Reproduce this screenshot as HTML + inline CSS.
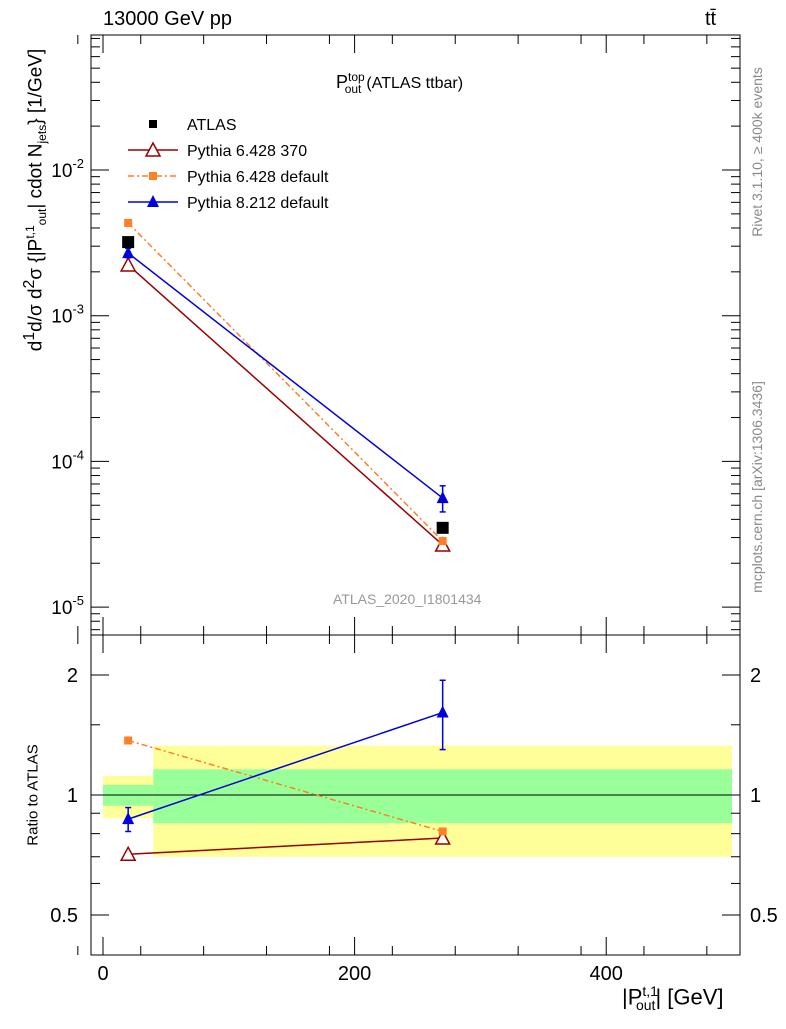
<!DOCTYPE html>
<html><head><meta charset="utf-8"><style>
body{margin:0;background:#fff;font-family:"Liberation Sans",sans-serif}
svg text{font-family:"Liberation Sans",sans-serif}
</style></head><body>
<svg id="c" width="786" height="1024" xmlns="http://www.w3.org/2000/svg">
<g id="g"></g>
</svg>
<script>
const xVals=[20,270];
const atlas=[3.2e-3,3.5e-5];
const py6_370=[2.23e-3,2.67e-5];
const py6def=[4.33e-3,2.84e-5];
const py8=[2.69e-3,5.6e-5];
const py8ErrLo=[2.5e-3,4.5e-5];
const py8ErrHi=[2.9e-3,6.8e-5];
const r370=[0.71,0.78];
const rdef=[1.37,0.81];
const r8=[0.87,1.61];
const r8Lo=[0.81,1.30];
const r8Hi=[0.93,1.94];
const bandEdges=[0,40,500];
const yelLo=[0.875,0.70],yelHi=[1.116,1.33];
const grnLo=[0.94,0.85],grnHi=[1.06,1.16];
const xTicks=[0,200,400];
const yDecades=[-2,-3,-4,-5];
const rTicks=[0.5,1,2];

const NS="http://www.w3.org/2000/svg";
const g=document.getElementById('g');
const X=v=>103+v*1.258;
const Y=v=>170-(Math.log10(v)+2)*145.7;
const R=v=>795-Math.log2(v)*120;
function el(t,a,name,txt){const e=document.createElementNS(NS,t);for(const k in a)e.setAttribute(k,a[k]);


if(txt!==undefined)e.textContent=txt;g.appendChild(e);return e;}
for(let i=0;i<2;i++){
el('rect',{x:X(bandEdges[i]),y:R(yelHi[i]),width:X(bandEdges[i+1])-X(bandEdges[i]),height:R(yelLo[i])-R(yelHi[i]),fill:'#ffff99'},'yellow-band');
el('rect',{x:X(bandEdges[i]),y:R(grnHi[i]),width:X(bandEdges[i+1])-X(bandEdges[i]),height:R(grnLo[i])-R(grnHi[i]),fill:'#99ff99'},'green-band');}
el('line',{x1:91,x2:740,y1:R(1),y2:R(1),stroke:'#000'},'unity-line');
el('rect',{x:91,y:35,width:649,height:600,fill:'none',stroke:'#000'},'main-frame');
el('rect',{x:91,y:635,width:649,height:320,fill:'none',stroke:'#000'},'ratio-frame');
xTicks.forEach(t=>{
el('line',{x1:X(t),x2:X(t),y1:955,y2:937,stroke:'#000'},'x-tick');
el('line',{x1:X(t),x2:X(t),y1:635,y2:617,stroke:'#000'},'x-tick');
el('line',{x1:X(t),x2:X(t),y1:35,y2:53,stroke:'#000'},'x-tick');
el('line',{x1:X(t),x2:X(t),y1:635,y2:653,stroke:'#000'},'x-tick');
el('text',{x:X(t),y:980,'font-size':20,'text-anchor':'middle'},'x-tick-label',String(t));});
for(let t=-20;t<=500;t+=50){if(t%200==0)continue;[[955,946],[635,626],[35,44],[635,644]].forEach(p=>el('line',{x1:X(t),x2:X(t),y1:p[0],y2:p[1],stroke:'#000'},'x-minor-tick'));}
yDecades.forEach(d=>{const y=Y(Math.pow(10,d));
el('line',{x1:91,x2:109,y1:y,y2:y,stroke:'#000'},'y-tick');
el('line',{x1:740,x2:722,y1:y,y2:y,stroke:'#000'},'y-tick');
const t=el('text',{x:84,y:y+7,'font-size':19,'text-anchor':'end'},'y-tick-label','10');
const s=document.createElementNS(NS,'tspan');s.setAttribute('dy',-9);s.setAttribute('font-size',13);s.textContent=String(d);t.appendChild(s);
for(let m=2;m<10;m++){const yy=Y(m*Math.pow(10,d));if(yy<35)continue;
el('line',{x1:91,x2:100,y1:yy,y2:yy,stroke:'#000'},'y-minor-tick');el('line',{x1:740,x2:731,y1:yy,y2:yy,stroke:'#000'},'y-minor-tick');}});
for(let m=2;m<10;m++){const yy=Y(m*1e-6);if(yy<635){el('line',{x1:91,x2:100,y1:yy,y2:yy,stroke:'#000'},'y-minor-tick');el('line',{x1:740,x2:731,y1:yy,y2:yy,stroke:'#000'},'y-minor-tick');}}
rTicks.forEach(t=>{const y=R(t);
el('line',{x1:91,x2:109,y1:y,y2:y,stroke:'#000'},'r-tick');el('line',{x1:740,x2:722,y1:y,y2:y,stroke:'#000'},'r-tick');
el('text',{x:78,y:y+7,'font-size':20,'text-anchor':'end'},'r-tick-label',String(t));
el('text',{x:750,y:y+7,'font-size':20},'r-tick-label-right',String(t));});
[0.6,0.7,0.8,0.9,1.5].forEach(t=>{const y=R(t);el('line',{x1:91,x2:100,y1:y,y2:y,stroke:'#000'},'r-minor-tick');el('line',{x1:740,x2:731,y1:y,y2:y,stroke:'#000'},'r-minor-tick');});
function series(vals,F,color,dash,marker,name){
el('polyline',{points:xVals.map((x,i)=>X(x)+','+F(vals[i])).join(' '),fill:'none',stroke:color,'stroke-width':1.5,'stroke-dasharray':dash||'none'},name+'-line');
xVals.forEach((x,i)=>drawMarker(X(x),F(vals[i]),color,marker,name+'-point'));}
function drawMarker(cx,cy,color,m,name){
if(m=='sq')el('rect',{x:cx-6,y:cy-6,width:12,height:12,fill:color},name);
else if(m=='sqs')el('rect',{x:cx-4,y:cy-4,width:8,height:8,fill:color},name);
else if(m=='tri')el('polygon',{points:`${cx},${cy-7} ${cx-6},${cy+5} ${cx+6},${cy+5}`,fill:color},name);
else el('polygon',{points:`${cx},${cy-7} ${cx-7},${cy+6} ${cx+7},${cy+6}`,fill:'#fff',stroke:color,'stroke-width':1.5},name);}
function errs(lo,hi,F,color,name){xVals.forEach((x,i)=>{el('line',{x1:X(x),x2:X(x),y1:F(lo[i]),y2:F(hi[i]),stroke:color,'stroke-width':1.5},name);
[lo[i],hi[i]].forEach(v=>el('line',{x1:X(x)-3,x2:X(x)+3,y1:F(v),y2:F(v),stroke:color,'stroke-width':1.5},name+'-cap'));});}
series(py6_370,Y,'#990000',null,'otri','py6-370');
series(py6def,Y,'#ff7f27','6,3,2,3','sqs','py6-default');
errs(py8ErrLo,py8ErrHi,Y,'#0000dd','py8-err');
series(py8,Y,'#0000dd',null,'tri','py8');
xVals.forEach((x,i)=>drawMarker(X(x),Y(atlas[i]),'#000','sq','atlas-point'));
series(r370,R,'#990000',null,'otri','ratio-py6-370');
series(rdef,R,'#ff7f27','6,3,2,3','sqs','ratio-py6-default');
errs(r8Lo,r8Hi,R,'#0000dd','ratio-py8-err');
series(r8,R,'#0000dd',null,'tri','ratio-py8');
const leg=[['ATLAS','#000','sq',null],['Pythia 6.428 370','#990000','otri',null],['Pythia 6.428 default','#ff7f27','sqs','6,3,2,3'],['Pythia 8.212 default','#0000dd','tri',null]];
leg.forEach((l,i)=>{const y=124+i*26;
if(i>0)el('line',{x1:128,x2:178,y1:y,y2:y,stroke:l[1],'stroke-width':1.5,'stroke-dasharray':l[3]||'none'},'legend-line');
drawMarker(153,y,l[1],l[2]=='sq'?'sqs':l[2],'legend-marker');
el('text',{x:187,y:y+6,'font-size':16},'legend-label',l[0]);});
</script>
<div style="position:absolute;left:0;top:0;width:786px;height:1024px;pointer-events:none">
<div style="position:absolute;left:103px;top:8px;font-size:20px">13000 GeV pp</div>
<div style="position:absolute;left:705px;top:8px;font-size:20px">tt&#772;</div>
<div style="position:absolute;left:336px;top:70px;font-size:18px">P<sup style="font-size:12px">top</sup><sub style="font-size:12px;margin-left:-20px">out</sub> <span style="font-size:16px">(ATLAS ttbar)</span></div>
<div style="position:absolute;left:333px;top:591px;font-size:14px;color:#999">ATLAS_2020_I1801434</div>
<div style="position:absolute;left:622px;top:983px;font-size:22px">|P<sup style="font-size:14px">t,1</sup><sub style="font-size:14px;margin-left:-22px">out</sub>| [GeV]</div>
<div style="position:absolute;left:33px;top:795px;font-size:15px;transform:translate(-50%,-50%) rotate(-90deg);white-space:nowrap">Ratio to ATLAS</div>
<div style="position:absolute;left:35px;top:200px;font-size:19px;transform:translate(-50%,-50%) rotate(-90deg);white-space:nowrap">d<sup>1</sup>d/σ d<sup>2</sup>σ {|P<sup style="font-size:12px">t,1</sup><sub style="font-size:12px">out</sub>| cdot N<sub style="font-size:12px">jets</sub>} [1/GeV]</div>
<div style="position:absolute;left:757px;top:152px;font-size:14px;color:#888;transform:translate(-50%,-50%) rotate(-90deg);white-space:nowrap">Rivet 3.1.10, ≥ 400k events</div>
<div style="position:absolute;left:757px;top:487px;font-size:14px;color:#888;transform:translate(-50%,-50%) rotate(-90deg);white-space:nowrap">mcplots.cern.ch [arXiv:1306.3436]</div>
</div>
</body></html>
